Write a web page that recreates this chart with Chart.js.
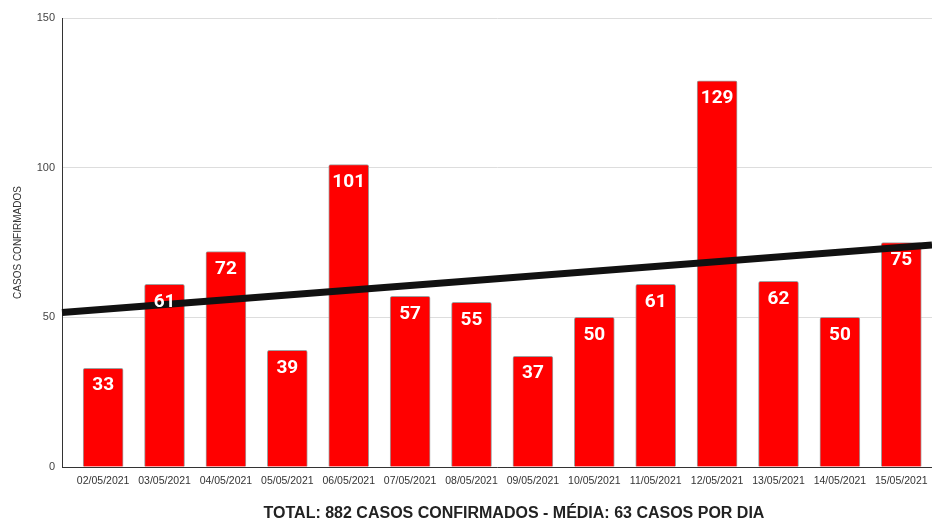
<!DOCTYPE html>
<html>
<head>
<meta charset="utf-8">
<script src="https://cdn.jsdelivr.net/npm/chart.js@4"></script>
<style>
html,body{margin:0;padding:0;background:#fff;}
#wrap{width:932px;height:523px;position:relative;}
</style>
</head>
<body>
<div id="wrap"><canvas id="c" width="932" height="523"></canvas></div>
<script>
const categories = ["02/05/2021","03/05/2021","04/05/2021","05/05/2021","06/05/2021","07/05/2021","08/05/2021","09/05/2021","10/05/2021","11/05/2021","12/05/2021","13/05/2021","14/05/2021","15/05/2021"];
const casos = [33,61,72,39,101,57,55,37,50,61,129,62,50,75];
const trendValues = [51.6, 74.2];
const yTicks = [0,50,100,150];
const yTitle = "CASOS CONFIRMADOS";
const bottomTitle = "TOTAL: 882 CASOS CONFIRMADOS - MÉDIA: 63 CASOS POR DIA";

const X_MIN = -0.67, X_MAX = 13.5;

const valueLabels = {
  id: 'valueLabels',
  afterDatasetsDraw(chart) {
    const ctx = chart.ctx;
    const meta = chart.getDatasetMeta(1);
    ctx.save();
    ctx.font = 'bold 19px Roboto';
    ctx.fillStyle = '#ffffff';
    ctx.textAlign = 'center';
    ctx.textBaseline = 'middle';
    meta.data.forEach((el, i) => {
      ctx.fillText(String(casos[i]), el.x, el.y + 17.5);
    });
    ctx.restore();
  },
  afterDraw(chart) {
    const ctx = chart.ctx;
    ctx.save();
    ctx.font = 'bold 16px "Liberation Sans", Arial, sans-serif';
    ctx.fillStyle = '#222';
    ctx.textAlign = 'center';
    ctx.textBaseline = 'middle';
    ctx.fillText(bottomTitle, 514, 514);
    ctx.restore();
  }
};

new Chart(document.getElementById('c'), {
  data: {
    datasets: [
      {
        type: 'line',
        data: [{x: X_MIN, y: trendValues[0]}, {x: X_MAX, y: trendValues[1]}],
        borderColor: '#111111',
        borderWidth: 7,
        pointRadius: 0,
        order: 0,
        clip: false
      },
      {
        type: 'bar',
        data: casos.map((v, i) => ({x: i, y: v})),
        backgroundColor: '#ff0000',
        borderColor: '#a0a0a0',
        borderWidth: 1,
        borderRadius: 2,
        borderSkipped: 'bottom',
        barThickness: 40,
        order: 1
      }
    ]
  },
  options: {
    responsive: false,
    animation: false,
    layout: { padding: { top: 18, right: 0, left: 0, bottom: 0 } },
    plugins: { legend: { display: false }, tooltip: { enabled: false } },
    scales: {
      x: {
        type: 'linear',
        offset: false,
        min: X_MIN,
        max: X_MAX,
        afterFit(s) { s.height = 56; },
        afterBuildTicks(s) { s.ticks = categories.map((c, i) => ({value: i})); },
        grid: { display: false },
        border: { display: true, color: '#333333', width: 1 },
        ticks: {
          callback: (v) => categories[v] ?? '',
          color: '#333333',
          font: { family: '"Liberation Sans", Arial, sans-serif', size: 10.5 },
          padding: 0,
          maxRotation: 0,
          autoSkip: false
        }
      },
      y: {
        min: 0,
        max: 150,
        afterFit(s) { s.width = 62; },
        afterBuildTicks(s) { s.ticks = yTicks.map(v => ({value: v})); },
        grid: { color: '#dddddd', drawTicks: false, lineWidth: 1 },
        border: { display: true, color: '#333333', width: 1 },
        ticks: {
          color: '#444444',
          font: { family: '"Liberation Sans", Arial, sans-serif', size: 11 },
          padding: 7
        },
        title: {
          display: true,
          text: yTitle,
          color: '#333333',
          font: { family: '"Liberation Sans", Arial, sans-serif', size: 10 },
          padding: { top: 12, bottom: 0 }
        }
      }
    }
  },
  plugins: [valueLabels]
});
</script>
</body>
</html>
